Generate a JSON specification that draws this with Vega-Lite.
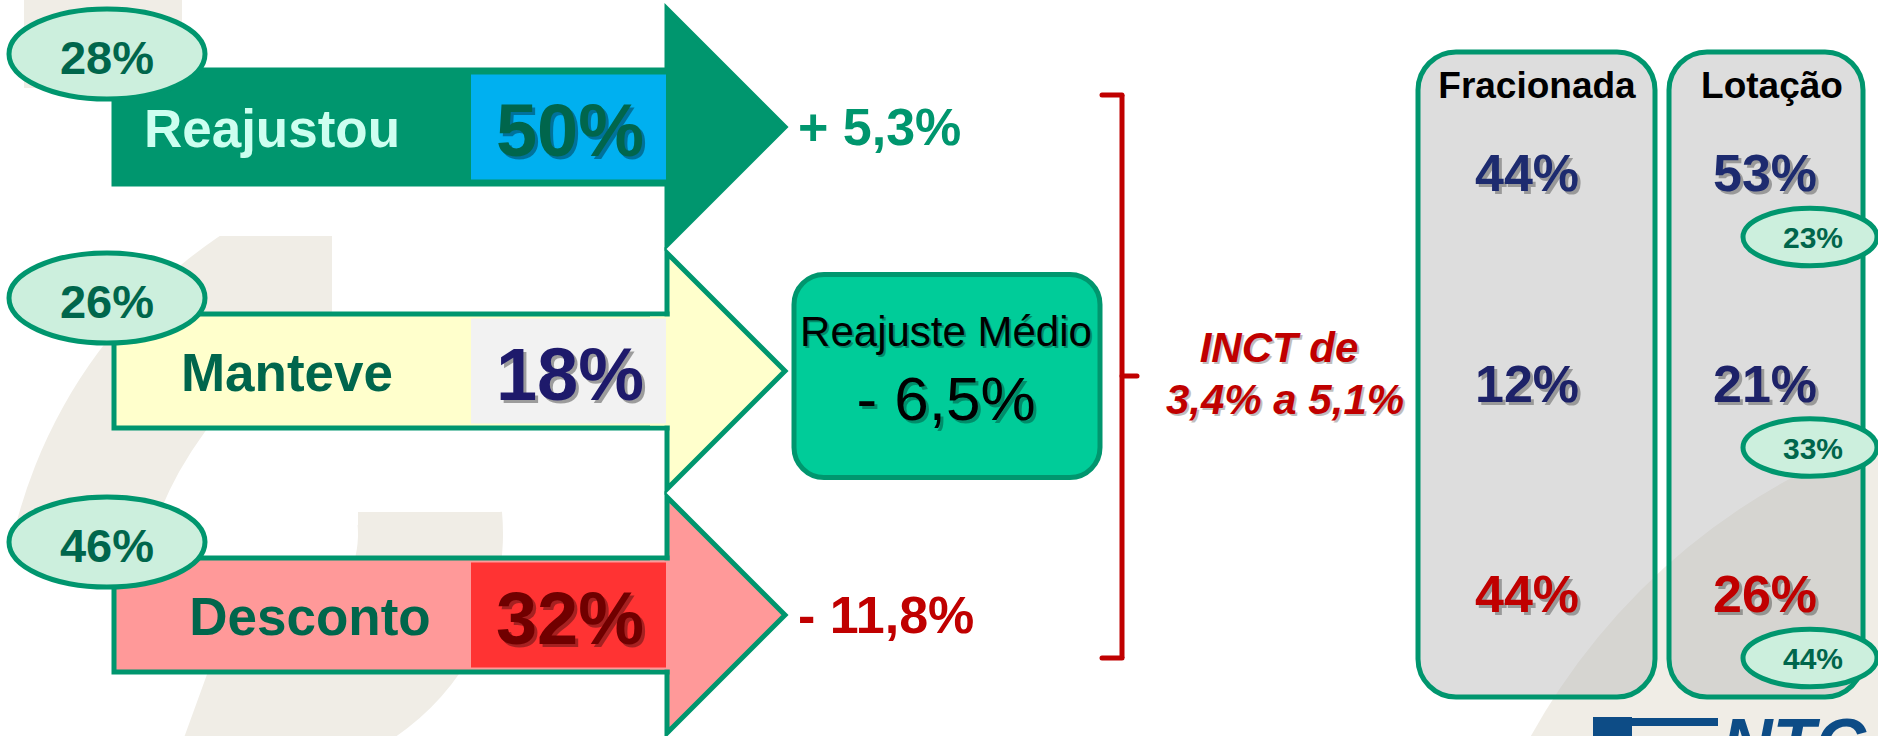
{
"$schema":"https://vega.github.io/schema/vega-lite/v6.json",
"width":1878,"height":736,"padding":0,"autosize":{"type":"none"},
"background":"#ffffff",
"config":{"view":{"stroke":null},"text":{"font":"Liberation Sans"}},
"datasets":{
"rows":[
{"cat":"Reajustou","resp":"28%","share":"50%","change":"+ 5,3%","frac":"44%","lot":"53%","lotResp":"23%"},
{"cat":"Manteve","resp":"26%","share":"18%","change":"","frac":"12%","lot":"21%","lotResp":"33%"},
{"cat":"Desconto","resp":"46%","share":"32%","change":"- 11,8%","frac":"44%","lot":"26%","lotResp":"44%"}
],
"summary":[{"label":"Reajuste Médio","value":"- 6,5%","inct1":"INCT de","inct2":"3,4% a 5,1%"}],
"panels":[{"panel":"Fracionada"},{"panel":"Lotação"}],
"brand":[{"name":"NTC"}]
},
"layer":[
{"layer":[
{"data":{"name":"brand"},"mark":{"type":"bar","color":"#f0ede6","size":88,"yOffset":-83},
"encoding":{"x":{"datum":24,"type":"quantitative","scale":{"domain":[0,1878],"nice":false,"zero":false},"axis":null},"x2":{"datum":182},
"y":{"datum":"Reajustou","type":"nominal","scale":{"type":"point","domain":["Reajustou","Manteve","Desconto"],"range":[127,615],"padding":0},"axis":null}}},
{"data":{"name":"brand"},"mark":{"type":"arc","color":"#f0ede6","theta":4.96,"theta2":6.0,"radius":500,"radius2":367,"yOffset":35},
"encoding":{"x":{"datum":500,"type":"quantitative","scale":{"domain":[0,1878],"nice":false,"zero":false},"axis":null},
"y":{"datum":"Desconto","type":"nominal","scale":{"type":"point","domain":["Reajustou","Manteve","Desconto"],"range":[127,615],"padding":0},"axis":null}}},
{"data":{"name":"brand"},"mark":{"type":"bar","color":"#ffffff","size":86,"yOffset":66},
"encoding":{"x":{"datum":140,"type":"quantitative","scale":{"domain":[0,1878],"nice":false,"zero":false},"axis":null},"x2":{"datum":430},
"y":{"datum":"Reajustou","type":"nominal","scale":{"type":"point","domain":["Reajustou","Manteve","Desconto"],"range":[127,615],"padding":0},"axis":null}}},
{"data":{"name":"brand"},"mark":{"type":"bar","color":"#ffffff","size":82,"yOffset":150},
"encoding":{"x":{"datum":332,"type":"quantitative","scale":{"domain":[0,1878],"nice":false,"zero":false},"axis":null},"x2":{"datum":430},
"y":{"datum":"Reajustou","type":"nominal","scale":{"type":"point","domain":["Reajustou","Manteve","Desconto"],"range":[127,615],"padding":0},"axis":null}}},
{"data":{"name":"brand"},"mark":{"type":"arc","color":"#f0ede6","theta":1.48,"theta2":3.49,"radius":245,"radius2":100,"yOffset":-81},
"encoding":{"x":{"datum":258,"type":"quantitative","scale":{"domain":[0,1878],"nice":false,"zero":false},"axis":null},
"y":{"datum":"Desconto","type":"nominal","scale":{"type":"point","domain":["Reajustou","Manteve","Desconto"],"range":[127,615],"padding":0},"axis":null}}},
{"data":{"name":"brand"},"mark":{"type":"bar","color":"#f0ede6","size":18,"yOffset":-94},
"encoding":{"x":{"datum":358,"type":"quantitative","scale":{"domain":[0,1878],"nice":false,"zero":false},"axis":null},"x2":{"datum":500},
"y":{"datum":"Desconto","type":"nominal","scale":{"type":"point","domain":["Reajustou","Manteve","Desconto"],"range":[127,615],"padding":0},"axis":null}}},
{"data":{"name":"rows"},"mark":{"type":"point","shape":"M0,-1L1,0L0,1Z","size":55696,"filled":true,"opacity":1,"stroke":"#00966e","strokeWidth":5,"strokeJoin":"miter"},
"encoding":{"x":{"datum":667,"type":"quantitative","scale":{"domain":[0,1878],"nice":false,"zero":false},"axis":null},
"y":{"field":"cat","type":"nominal","scale":{"type":"point","domain":["Reajustou","Manteve","Desconto"],"range":[127,615],"padding":0},"axis":null},
"fill":{"field":"cat","type":"nominal","scale":{"domain":["Reajustou","Manteve","Desconto"],"range":["#00966e","#ffffcc","#ff9999"]},"legend":null}}},
{"data":{"name":"rows"},"mark":{"type":"bar","size":114,"stroke":"#00966e","strokeWidth":5},
"encoding":{"x":{"datum":114,"type":"quantitative","scale":{"domain":[0,1878],"nice":false,"zero":false},"axis":null},"x2":{"datum":667},
"y":{"field":"cat","type":"nominal","scale":{"type":"point","domain":["Reajustou","Manteve","Desconto"],"range":[127,615],"padding":0},"axis":null},
"fill":{"field":"cat","type":"nominal","scale":{"domain":["Reajustou","Manteve","Desconto"],"range":["#00966e","#ffffcc","#ff9999"]},"legend":null}}},
{"data":{"name":"rows"},"mark":{"type":"bar","size":109,"strokeWidth":0},
"encoding":{"x":{"datum":650,"type":"quantitative","scale":{"domain":[0,1878],"nice":false,"zero":false},"axis":null},"x2":{"datum":684},
"y":{"field":"cat","type":"nominal","scale":{"type":"point","domain":["Reajustou","Manteve","Desconto"],"range":[127,615],"padding":0},"axis":null},
"fill":{"field":"cat","type":"nominal","scale":{"domain":["Reajustou","Manteve","Desconto"],"range":["#00966e","#ffffcc","#ff9999"]},"legend":null}}},
{"data":{"name":"rows"},"mark":{"type":"bar","size":105,"strokeWidth":0},
"encoding":{"x":{"datum":471,"type":"quantitative","scale":{"domain":[0,1878],"nice":false,"zero":false},"axis":null},"x2":{"datum":666},
"y":{"field":"cat","type":"nominal","scale":{"type":"point","domain":["Reajustou","Manteve","Desconto"],"range":[127,615],"padding":0},"axis":null},
"fill":{"field":"cat","type":"nominal","scale":{"domain":["Reajustou","Manteve","Desconto"],"range":["#00b0f0","#f2f2f2","#ff3333"]},"legend":null}}},
{"data":{"name":"rows"},"mark":{"type":"point","shape":"M-1,0A1,0.46,0,1,1,1,0A1,0.46,0,1,1,-1,0Z","size":38416,"filled":true,"opacity":1,"fill":"#ccefdd","stroke":"#00966e","strokeWidth":5,"yOffset":-73},
"encoding":{"x":{"datum":107,"type":"quantitative","scale":{"domain":[0,1878],"nice":false,"zero":false},"axis":null},
"y":{"field":"cat","type":"nominal","scale":{"type":"point","domain":["Reajustou","Manteve","Desconto"],"range":[127,615],"padding":0},"axis":null}}},
{"data":{"name":"rows"},"mark":{"type":"text","font":"Liberation Sans","fontWeight":"bold","fontSize":47,"fill":"#00664c","align":"center","baseline":"alphabetic","yOffset":-53},
"encoding":{"x":{"datum":107,"type":"quantitative","scale":{"domain":[0,1878],"nice":false,"zero":false},"axis":null},
"y":{"field":"cat","type":"nominal","scale":{"type":"point","domain":["Reajustou","Manteve","Desconto"],"range":[127,615],"padding":0},"axis":null},
"text":{"field":"resp"}}},
{"data":{"name":"rows"},"transform":[{"filter":"datum.cat === 'Reajustou'"}],"mark":{"type":"text","font":"Liberation Sans","fontWeight":"bold","fontSize":53,"fill":"#ccfff0","align":"center","baseline":"alphabetic","yOffset":20},
"encoding":{"x":{"datum":272,"type":"quantitative","scale":{"domain":[0,1878],"nice":false,"zero":false},"axis":null},
"y":{"field":"cat","type":"nominal","scale":{"type":"point","domain":["Reajustou","Manteve","Desconto"],"range":[127,615],"padding":0},"axis":null},
"text":{"field":"cat"}}},
{"data":{"name":"rows"},"transform":[{"filter":"datum.cat === 'Manteve'"}],"mark":{"type":"text","font":"Liberation Sans","fontWeight":"bold","fontSize":53,"fill":"#00664c","align":"center","baseline":"alphabetic","yOffset":20},
"encoding":{"x":{"datum":287,"type":"quantitative","scale":{"domain":[0,1878],"nice":false,"zero":false},"axis":null},
"y":{"field":"cat","type":"nominal","scale":{"type":"point","domain":["Reajustou","Manteve","Desconto"],"range":[127,615],"padding":0},"axis":null},
"text":{"field":"cat"}}},
{"data":{"name":"rows"},"transform":[{"filter":"datum.cat === 'Desconto'"}],"mark":{"type":"text","font":"Liberation Sans","fontWeight":"bold","fontSize":53,"fill":"#00664c","align":"center","baseline":"alphabetic","yOffset":20},
"encoding":{"x":{"datum":310,"type":"quantitative","scale":{"domain":[0,1878],"nice":false,"zero":false},"axis":null},
"y":{"field":"cat","type":"nominal","scale":{"type":"point","domain":["Reajustou","Manteve","Desconto"],"range":[127,615],"padding":0},"axis":null},
"text":{"field":"cat"}}},
{"data":{"name":"rows"},"mark":{"type":"text","font":"Liberation Sans","fontWeight":"bold","fontSize":74,"fill":"#000000","opacity":0.35,"align":"center","baseline":"alphabetic","yOffset":32,"xOffset":3},
"encoding":{"x":{"datum":570,"type":"quantitative","scale":{"domain":[0,1878],"nice":false,"zero":false},"axis":null},
"y":{"field":"cat","type":"nominal","scale":{"type":"point","domain":["Reajustou","Manteve","Desconto"],"range":[127,615],"padding":0},"axis":null},
"text":{"field":"share"}}},
{"data":{"name":"rows"},"mark":{"type":"text","font":"Liberation Sans","fontWeight":"bold","fontSize":74,"align":"center","baseline":"alphabetic","yOffset":29},
"encoding":{"x":{"datum":570,"type":"quantitative","scale":{"domain":[0,1878],"nice":false,"zero":false},"axis":null},
"y":{"field":"cat","type":"nominal","scale":{"type":"point","domain":["Reajustou","Manteve","Desconto"],"range":[127,615],"padding":0},"axis":null},
"fill":{"field":"cat","type":"nominal","scale":{"domain":["Reajustou","Manteve","Desconto"],"range":["#00664c","#1e1a6b","#700000"]},"legend":null},
"text":{"field":"share"}}},
{"data":{"name":"rows"},"transform":[{"filter":"datum.change !== ''"}],"mark":{"type":"text","font":"Liberation Sans","fontWeight":"bold","fontSize":52,"align":"left","baseline":"alphabetic","yOffset":18},
"encoding":{"x":{"datum":798,"type":"quantitative","scale":{"domain":[0,1878],"nice":false,"zero":false},"axis":null},
"y":{"field":"cat","type":"nominal","scale":{"type":"point","domain":["Reajustou","Manteve","Desconto"],"range":[127,615],"padding":0},"axis":null},
"fill":{"field":"cat","type":"nominal","scale":{"domain":["Reajustou","Desconto"],"range":["#00966e","#c00000"]},"legend":null},
"text":{"field":"change"}}},
{"data":{"name":"summary"},"mark":{"type":"bar","size":203,"yOffset":5,"cornerRadius":30,"fill":"#00cc99","stroke":"#00966e","strokeWidth":5},
"encoding":{"x":{"datum":794,"type":"quantitative","scale":{"domain":[0,1878],"nice":false,"zero":false},"axis":null},"x2":{"datum":1100},
"y":{"datum":"Manteve","type":"nominal","scale":{"type":"point","domain":["Reajustou","Manteve","Desconto"],"range":[127,615],"padding":0},"axis":null}}},
{"data":{"name":"summary"},"mark":{"type":"text","font":"Liberation Sans","fontSize":42,"fill":"#000000","opacity":0.3,"align":"center","baseline":"alphabetic","yOffset":-23,"xOffset":2},
"encoding":{"x":{"datum":946,"type":"quantitative","scale":{"domain":[0,1878],"nice":false,"zero":false},"axis":null},
"y":{"datum":"Manteve","type":"nominal","scale":{"type":"point","domain":["Reajustou","Manteve","Desconto"],"range":[127,615],"padding":0},"axis":null},
"text":{"field":"label"}}},
{"data":{"name":"summary"},"mark":{"type":"text","font":"Liberation Sans","fontSize":42,"fill":"#000000","align":"center","baseline":"alphabetic","yOffset":-25},
"encoding":{"x":{"datum":946,"type":"quantitative","scale":{"domain":[0,1878],"nice":false,"zero":false},"axis":null},
"y":{"datum":"Manteve","type":"nominal","scale":{"type":"point","domain":["Reajustou","Manteve","Desconto"],"range":[127,615],"padding":0},"axis":null},
"text":{"field":"label"}}},
{"data":{"name":"summary"},"mark":{"type":"text","font":"Liberation Sans","fontSize":62,"fill":"#000000","opacity":0.3,"align":"center","baseline":"alphabetic","yOffset":52,"xOffset":3},
"encoding":{"x":{"datum":946,"type":"quantitative","scale":{"domain":[0,1878],"nice":false,"zero":false},"axis":null},
"y":{"datum":"Manteve","type":"nominal","scale":{"type":"point","domain":["Reajustou","Manteve","Desconto"],"range":[127,615],"padding":0},"axis":null},
"text":{"field":"value"}}},
{"data":{"name":"summary"},"mark":{"type":"text","font":"Liberation Sans","fontSize":62,"fill":"#000000","align":"center","baseline":"alphabetic","yOffset":49},
"encoding":{"x":{"datum":946,"type":"quantitative","scale":{"domain":[0,1878],"nice":false,"zero":false},"axis":null},
"y":{"datum":"Manteve","type":"nominal","scale":{"type":"point","domain":["Reajustou","Manteve","Desconto"],"range":[127,615],"padding":0},"axis":null},
"text":{"field":"value"}}},
{"data":{"name":"summary"},"mark":{"type":"rule","color":"#c00000","strokeWidth":5,"yOffset":-32,"y2Offset":43},
"encoding":{"x":{"datum":1122,"type":"quantitative","scale":{"domain":[0,1878],"nice":false,"zero":false},"axis":null},
"y":{"datum":"Reajustou","type":"nominal","scale":{"type":"point","domain":["Reajustou","Manteve","Desconto"],"range":[127,615],"padding":0},"axis":null},"y2":{"datum":"Desconto"}}},
{"data":{"name":"summary"},"mark":{"type":"rule","color":"#c00000","strokeWidth":5,"strokeCap":"round","yOffset":-32},
"encoding":{"x":{"datum":1102,"type":"quantitative","scale":{"domain":[0,1878],"nice":false,"zero":false},"axis":null},"x2":{"datum":1122},
"y":{"datum":"Reajustou","type":"nominal","scale":{"type":"point","domain":["Reajustou","Manteve","Desconto"],"range":[127,615],"padding":0},"axis":null}}},
{"data":{"name":"summary"},"mark":{"type":"rule","color":"#c00000","strokeWidth":5,"strokeCap":"round","yOffset":43},
"encoding":{"x":{"datum":1102,"type":"quantitative","scale":{"domain":[0,1878],"nice":false,"zero":false},"axis":null},"x2":{"datum":1122},
"y":{"datum":"Desconto","type":"nominal","scale":{"type":"point","domain":["Reajustou","Manteve","Desconto"],"range":[127,615],"padding":0},"axis":null}}},
{"data":{"name":"summary"},"mark":{"type":"rule","color":"#c00000","strokeWidth":5,"strokeCap":"round","yOffset":5},
"encoding":{"x":{"datum":1122,"type":"quantitative","scale":{"domain":[0,1878],"nice":false,"zero":false},"axis":null},"x2":{"datum":1137},
"y":{"datum":"Manteve","type":"nominal","scale":{"type":"point","domain":["Reajustou","Manteve","Desconto"],"range":[127,615],"padding":0},"axis":null}}},
{"data":{"name":"summary"},"mark":{"type":"text","font":"Liberation Sans","fontWeight":"bold","fontStyle":"italic","fontSize":42,"fill":"#000000","opacity":0.25,"align":"center","baseline":"alphabetic","yOffset":-7,"xOffset":2},
"encoding":{"x":{"datum":1279,"type":"quantitative","scale":{"domain":[0,1878],"nice":false,"zero":false},"axis":null},
"y":{"datum":"Manteve","type":"nominal","scale":{"type":"point","domain":["Reajustou","Manteve","Desconto"],"range":[127,615],"padding":0},"axis":null},
"text":{"field":"inct1"}}},
{"data":{"name":"summary"},"mark":{"type":"text","font":"Liberation Sans","fontWeight":"bold","fontStyle":"italic","fontSize":42,"fill":"#c00000","align":"center","baseline":"alphabetic","yOffset":-9},
"encoding":{"x":{"datum":1279,"type":"quantitative","scale":{"domain":[0,1878],"nice":false,"zero":false},"axis":null},
"y":{"datum":"Manteve","type":"nominal","scale":{"type":"point","domain":["Reajustou","Manteve","Desconto"],"range":[127,615],"padding":0},"axis":null},
"text":{"field":"inct1"}}},
{"data":{"name":"summary"},"mark":{"type":"text","font":"Liberation Sans","fontWeight":"bold","fontStyle":"italic","fontSize":42,"fill":"#000000","opacity":0.25,"align":"center","baseline":"alphabetic","yOffset":45,"xOffset":2},
"encoding":{"x":{"datum":1285,"type":"quantitative","scale":{"domain":[0,1878],"nice":false,"zero":false},"axis":null},
"y":{"datum":"Manteve","type":"nominal","scale":{"type":"point","domain":["Reajustou","Manteve","Desconto"],"range":[127,615],"padding":0},"axis":null},
"text":{"field":"inct2"}}},
{"data":{"name":"summary"},"mark":{"type":"text","font":"Liberation Sans","fontWeight":"bold","fontStyle":"italic","fontSize":42,"fill":"#c00000","align":"center","baseline":"alphabetic","yOffset":43},
"encoding":{"x":{"datum":1285,"type":"quantitative","scale":{"domain":[0,1878],"nice":false,"zero":false},"axis":null},
"y":{"datum":"Manteve","type":"nominal","scale":{"type":"point","domain":["Reajustou","Manteve","Desconto"],"range":[127,615],"padding":0},"axis":null},
"text":{"field":"inct2"}}}
],"resolve":{"scale":{"fill":"independent"}}},
{"layer":[
{"data":{"name":"brand"},"mark":{"type":"arc","color":"#f0ede6","theta":0,"theta2":6.2832,"radius":650,"yOffset":457},
"encoding":{"x":{"datum":2100,"type":"quantitative","scale":{"domain":[0,1878],"nice":false,"zero":false},"axis":null},
"y":{"datum":"Desconto","type":"nominal","scale":{"type":"point","domain":["Reajustou","Manteve","Desconto"],"range":[172,593],"padding":0},"axis":null}}},
{"data":{"name":"panels"},"transform":[{"filter":"datum.panel === 'Fracionada'"}],"mark":{"type":"bar","size":645,"yOffset":-8,"cornerRadius":38,"fill":"#bfbfbf","fillOpacity":0.53,"stroke":"#00966e","strokeWidth":5},
"encoding":{"x":{"datum":1418,"type":"quantitative","scale":{"domain":[0,1878],"nice":false,"zero":false},"axis":null},"x2":{"datum":1655},
"y":{"datum":"Manteve","type":"nominal","scale":{"type":"point","domain":["Reajustou","Manteve","Desconto"],"range":[172,593],"padding":0},"axis":null}}},
{"data":{"name":"panels"},"transform":[{"filter":"datum.panel === 'Lotação'"}],"mark":{"type":"bar","size":645,"yOffset":-8,"cornerRadius":38,"fill":"#bfbfbf","fillOpacity":0.53,"stroke":"#00966e","strokeWidth":5},
"encoding":{"x":{"datum":1669,"type":"quantitative","scale":{"domain":[0,1878],"nice":false,"zero":false},"axis":null},"x2":{"datum":1863},
"y":{"datum":"Manteve","type":"nominal","scale":{"type":"point","domain":["Reajustou","Manteve","Desconto"],"range":[172,593],"padding":0},"axis":null}}},
{"data":{"name":"panels"},"transform":[{"filter":"datum.panel === 'Fracionada'"}],"mark":{"type":"text","font":"Liberation Sans","fontWeight":"bold","fontSize":37,"fill":"#000000","align":"center","baseline":"alphabetic","yOffset":-74},
"encoding":{"x":{"datum":1537,"type":"quantitative","scale":{"domain":[0,1878],"nice":false,"zero":false},"axis":null},
"y":{"datum":"Reajustou","type":"nominal","scale":{"type":"point","domain":["Reajustou","Manteve","Desconto"],"range":[172,593],"padding":0},"axis":null},
"text":{"field":"panel"}}},
{"data":{"name":"panels"},"transform":[{"filter":"datum.panel === 'Lotação'"}],"mark":{"type":"text","font":"Liberation Sans","fontWeight":"bold","fontSize":37,"fill":"#000000","align":"center","baseline":"alphabetic","yOffset":-74},
"encoding":{"x":{"datum":1772,"type":"quantitative","scale":{"domain":[0,1878],"nice":false,"zero":false},"axis":null},
"y":{"datum":"Reajustou","type":"nominal","scale":{"type":"point","domain":["Reajustou","Manteve","Desconto"],"range":[172,593],"padding":0},"axis":null},
"text":{"field":"panel"}}},
{"data":{"name":"rows"},"mark":{"type":"text","font":"Liberation Sans","fontWeight":"bold","fontSize":52,"fill":"#000000","opacity":0.3,"align":"center","baseline":"alphabetic","yOffset":22,"xOffset":3},
"encoding":{"x":{"datum":1527,"type":"quantitative","scale":{"domain":[0,1878],"nice":false,"zero":false},"axis":null},
"y":{"field":"cat","type":"nominal","scale":{"type":"point","domain":["Reajustou","Manteve","Desconto"],"range":[172,593],"padding":0},"axis":null},
"text":{"field":"frac"}}},
{"data":{"name":"rows"},"mark":{"type":"text","font":"Liberation Sans","fontWeight":"bold","fontSize":52,"align":"center","baseline":"alphabetic","yOffset":19},
"encoding":{"x":{"datum":1527,"type":"quantitative","scale":{"domain":[0,1878],"nice":false,"zero":false},"axis":null},
"y":{"field":"cat","type":"nominal","scale":{"type":"point","domain":["Reajustou","Manteve","Desconto"],"range":[172,593],"padding":0},"axis":null},
"fill":{"field":"cat","type":"nominal","scale":{"domain":["Reajustou","Manteve","Desconto"],"range":["#1d2b6f","#1d2268","#c00000"]},"legend":null},
"text":{"field":"frac"}}},
{"data":{"name":"rows"},"mark":{"type":"text","font":"Liberation Sans","fontWeight":"bold","fontSize":52,"fill":"#000000","opacity":0.3,"align":"center","baseline":"alphabetic","yOffset":22,"xOffset":3},
"encoding":{"x":{"datum":1765,"type":"quantitative","scale":{"domain":[0,1878],"nice":false,"zero":false},"axis":null},
"y":{"field":"cat","type":"nominal","scale":{"type":"point","domain":["Reajustou","Manteve","Desconto"],"range":[172,593],"padding":0},"axis":null},
"text":{"field":"lot"}}},
{"data":{"name":"rows"},"mark":{"type":"text","font":"Liberation Sans","fontWeight":"bold","fontSize":52,"align":"center","baseline":"alphabetic","yOffset":19},
"encoding":{"x":{"datum":1765,"type":"quantitative","scale":{"domain":[0,1878],"nice":false,"zero":false},"axis":null},
"y":{"field":"cat","type":"nominal","scale":{"type":"point","domain":["Reajustou","Manteve","Desconto"],"range":[172,593],"padding":0},"axis":null},
"fill":{"field":"cat","type":"nominal","scale":{"domain":["Reajustou","Manteve","Desconto"],"range":["#1d2b6f","#1d2268","#c00000"]},"legend":null},
"text":{"field":"lot"}}},
{"data":{"name":"rows"},"mark":{"type":"point","shape":"M-1,0A1,0.43,0,1,1,1,0A1,0.43,0,1,1,-1,0Z","size":17956,"filled":true,"opacity":1,"fill":"#ccefdd","stroke":"#00966e","strokeWidth":5,"yOffset":65},
"encoding":{"x":{"datum":1810,"type":"quantitative","scale":{"domain":[0,1878],"nice":false,"zero":false},"axis":null},
"y":{"field":"cat","type":"nominal","scale":{"type":"point","domain":["Reajustou","Manteve","Desconto"],"range":[172,593],"padding":0},"axis":null}}},
{"data":{"name":"rows"},"mark":{"type":"text","font":"Liberation Sans","fontWeight":"bold","fontSize":30,"fill":"#00664c","align":"center","baseline":"alphabetic","yOffset":76},
"encoding":{"x":{"datum":1813,"type":"quantitative","scale":{"domain":[0,1878],"nice":false,"zero":false},"axis":null},
"y":{"field":"cat","type":"nominal","scale":{"type":"point","domain":["Reajustou","Manteve","Desconto"],"range":[172,593],"padding":0},"axis":null},
"text":{"field":"lotResp"}}},
{"data":{"name":"brand"},"mark":{"type":"bar","size":8,"yOffset":129,"fill":"#0d4c86"},
"encoding":{"x":{"datum":1593,"type":"quantitative","scale":{"domain":[0,1878],"nice":false,"zero":false},"axis":null},"x2":{"datum":1718},
"y":{"datum":"Desconto","type":"nominal","scale":{"type":"point","domain":["Reajustou","Manteve","Desconto"],"range":[172,593],"padding":0},"axis":null}}},
{"data":{"name":"brand"},"mark":{"type":"bar","size":20,"yOffset":134,"fill":"#0d4c86"},
"encoding":{"x":{"datum":1593,"type":"quantitative","scale":{"domain":[0,1878],"nice":false,"zero":false},"axis":null},"x2":{"datum":1632},
"y":{"datum":"Desconto","type":"nominal","scale":{"type":"point","domain":["Reajustou","Manteve","Desconto"],"range":[172,593],"padding":0},"axis":null}}},
{"data":{"name":"brand"},"mark":{"type":"text","font":"Liberation Sans","fontWeight":"bold","fontStyle":"italic","fontSize":70,"fill":"#0d4c86","align":"left","baseline":"alphabetic","yOffset":175},
"encoding":{"x":{"datum":1722,"type":"quantitative","scale":{"domain":[0,1878],"nice":false,"zero":false},"axis":null},
"y":{"datum":"Desconto","type":"nominal","scale":{"type":"point","domain":["Reajustou","Manteve","Desconto"],"range":[172,593],"padding":0},"axis":null},
"text":{"field":"name"}}}
],"resolve":{"scale":{"fill":"independent"}}}
],
"resolve":{"scale":{"y":"independent","fill":"independent"}}
}
